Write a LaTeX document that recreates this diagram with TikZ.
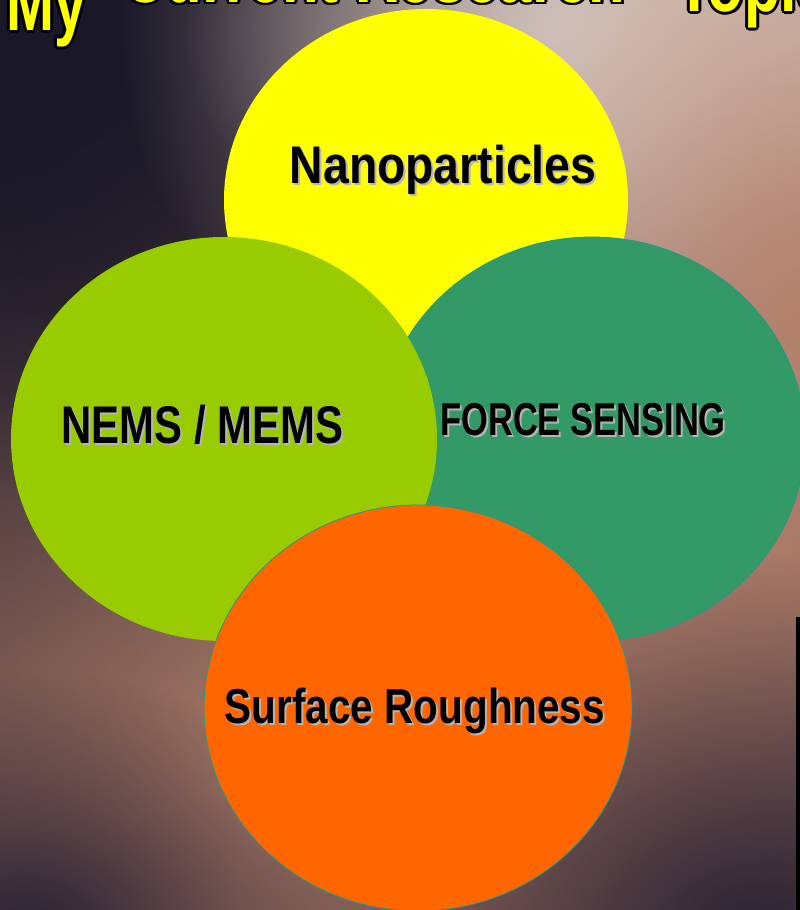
\documentclass[tikz,border=0pt]{standalone}
\usepackage{fontspec}
\usepackage{graphicx}
\setmainfont{Liberation Sans}
\usetikzlibrary{fadings}

\definecolor{bgbase}{HTML}{2B2333}
\definecolor{bgdark}{HTML}{1A1828}
\definecolor{bgwarm}{HTML}{B5826C}
\definecolor{bglight}{HTML}{D6C6BE}
\definecolor{bggray}{HTML}{9A908C}
\definecolor{nanoyellow}{HTML}{FFFF00}
\definecolor{nemslime}{HTML}{99CC00}
\definecolor{forcegreen}{HTML}{339966}
\definecolor{surforange}{HTML}{FF6600}
\definecolor{rimteal}{HTML}{1E9A8A}
\definecolor{shadowgray}{HTML}{B4B4B4}
\definecolor{titleyellow}{HTML}{FFFF00}

% soft radial spot for the blurred background light
% (fully transparent from half the path's radius outwards)
\tikzfading[name=softspot, inner color=transparent!0, outer color=transparent!100]

\tikzset{
  lbl/.style={anchor=base, inner sep=0pt, text=black},
  ttl/.style={anchor=base west, inner sep=0pt, font=\fontsize{80}{80}\selectfont\bfseries},
  topic/.style={line width=0.8pt},
}

% topic label with a light drop shadow
\newcommand\topiclabel[5]{%
  \node[lbl, text=shadowgray, font=\fontsize{#3}{#3}\selectfont\bfseries] at ([shift={(2,2)}]#2) {\scalebox{#4}[1]{#5}};
  \node[lbl, font=\fontsize{#3}{#3}\selectfont\bfseries] (#1) at (#2) {\scalebox{#4}[1]{#5}};
}

% yellow title word with a heavy black outline
\newcommand\titleword[4]{%
  \foreach \dx/\dy in {3/0,-3/0,0/3,0/-3,2.1/2.1,-2.1/2.1,2.1/-2.1,-2.1/-2.1}
    \node[ttl, text=black] at ([shift={(\dx,\dy)}]#2) {\scalebox{#3}[1]{#4}};
  \node[ttl, text=titleyellow] (#1) at (#2) {\scalebox{#3}[1]{#4}};
}

\begin{document}
\begin{tikzpicture}[x=1pt, y=-1pt]
\useasboundingbox (0,0) rectangle (800,910);
\begin{scope}
  \clip (0,0) rectangle (800,910);

  % blurred photographic backdrop
  \fill[bgbase] (0,0) rectangle (800,910);
  \fill[bgwarm, path fading=softspot] (440,640) ellipse (1100 and 900);
  \fill[bgwarm, path fading=softspot] (450,640) ellipse (760 and 600);
  \fill[bgdark, path fading=softspot] (0,110) ellipse (620 and 720);
  \fill[bgdark, path fading=softspot] (80,60) ellipse (560 and 440);
  \fill[bggray, path fading=softspot] (580,30) ellipse (400 and 260);
  \fill[bglight, path fading=softspot] (720,40) ellipse (600 and 440);
  \fill[bglight, path fading=softspot] (730,60) ellipse (380 and 280);
  \fill[bgwarm, path fading=softspot] (800,330) ellipse (300 and 500);
  \fill[bgbase, path fading=softspot] (760,930) ellipse (520 and 380);
  \fill[bgbase, path fading=softspot] (30,930) ellipse (340 and 260);

  % title
  \titleword{tmy}{6,30}{0.72}{My}
  \titleword{tcur}{122,2}{0.75}{Current Research}
  \titleword{ttop}{676,11}{0.74}{Topics}

  % the four topic discs
  \fill[nanoyellow] (426,200) ellipse (202 and 191);
  \filldraw[topic, fill=forcegreen, draw=rimteal] (592,439) ellipse (213 and 202);
  \fill[nemslime] (224,439) ellipse (213 and 202);
  \filldraw[topic, fill=surforange, draw=rimteal] (418,708) ellipse (214 and 203);

  % black edge strip at the lower right
  \fill[black] (796,617) rectangle (800,910);
\end{scope}

\topiclabel{nano}{443,183}{53}{0.874}{Nanoparticles}
\topiclabel{nems}{202.5,443}{53}{0.79}{NEMS / MEMS}
\topiclabel{force}{583,435}{46}{0.75}{FORCE SENSING}
\topiclabel{surf}{415,723}{49}{0.826}{Surface Roughness}
\end{tikzpicture}
\end{document}
